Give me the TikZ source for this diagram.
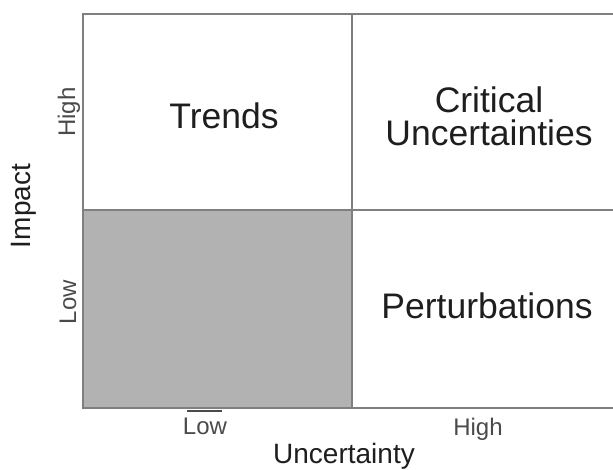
\documentclass[tikz,border=0pt]{standalone}
\usepackage{fontspec}
\setmainfont{Liberation Sans}
\definecolor{gridgray}{HTML}{7F7F7F}
\definecolor{cellgray}{HTML}{B2B2B2}
\definecolor{inkgray}{HTML}{1E1E1E}
\definecolor{tickgray}{HTML}{4A4A4A}
\begin{document}
\begin{tikzpicture}[x=1pt,y=-1pt,
  gridline/.style={draw=gridgray, line width=2pt},
  celltext/.style={text=inkgray, font=\fontsize{35.5}{40}\selectfont, anchor=base, inner sep=0pt},
  ticktext/.style={text=tickgray, font=\fontsize{24}{28}\selectfont, anchor=base, inner sep=0pt},
  axistext/.style={text=inkgray, font=\fontsize{28}{32}\selectfont, anchor=base, inner sep=0pt}]
\useasboundingbox (0,0) rectangle (613,469);
% grid corners
\coordinate (tl) at (83,14);  \coordinate (tm) at (352,14);  \coordinate (tr) at (613,14);
\coordinate (ml) at (83,210); \coordinate (mm) at (352,210); \coordinate (mr) at (613,210);
\coordinate (bl) at (83,408); \coordinate (bm) at (352,408); \coordinate (br) at (613,408);
% shaded low/low quadrant
\fill[cellgray] (ml) rectangle (bm);
% frame and dividers
\draw[gridline] (tr) -- (tl) -- (bl) -- (br);
\draw[gridline] (tm) -- (bm);
\draw[gridline] (ml) -- (mr);
% quadrant labels
\node[celltext] (trends) at (224,128) {Trends};
\node[celltext] (crit1) at (489,112) {Critical};
\node[celltext] (crit2) at (489,145) {Uncertainties};
\node[celltext] (pert) at (487,318) {Perturbations};
% impact axis
\node[axistext, rotate=90] (impact) at (30,206) {Impact};
\node[ticktext, rotate=90] (ihigh) at (75,112) {High};
\node[ticktext, rotate=90] (ilow) at (76,302) {Low};
% uncertainty axis
\node[ticktext] (ulow) at (205,434) {Low};
\node[ticktext] (uhigh) at (478,435) {High};
\node[axistext] (unc) at (344,463) {Uncertainty};
\coordinate (mk1) at (187,411); \coordinate (mk2) at (222,411);
\draw[draw=inkgray!80, line width=1.5pt] (mk1) -- (mk2);
\end{tikzpicture}
\end{document}
